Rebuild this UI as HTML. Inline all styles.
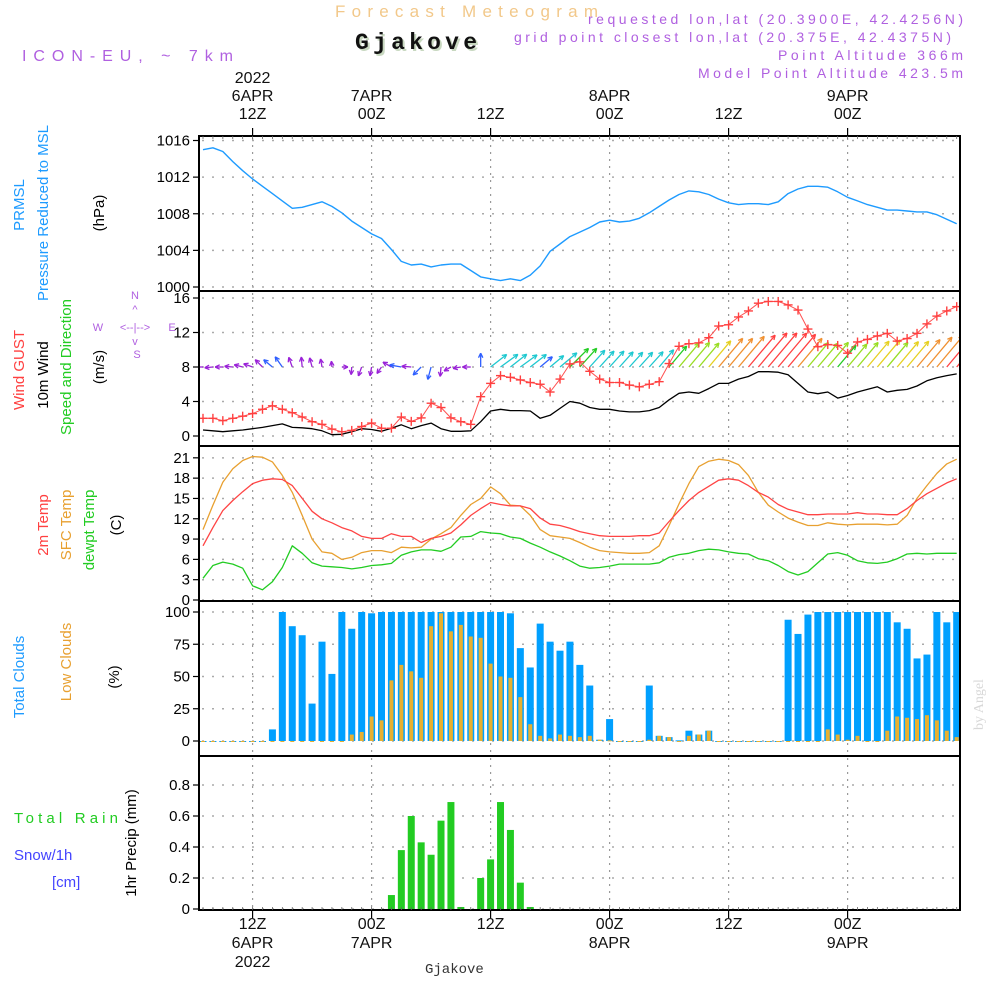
<!DOCTYPE html>
<html><head><meta charset="utf-8"><style>
html,body{margin:0;padding:0;background:#fff;}
svg{display:block;font-family:"Liberation Sans",sans-serif;}
</style></head><body>
<svg id="chart" width="1000" height="1000" viewBox="0 0 1000 1000" xmlns="http://www.w3.org/2000/svg">
<defs>
<clipPath id="plotclip"><rect x="199" y="136" width="761" height="774"/></clipPath>
</defs>
<g>
<text x="335" y="17" font-size="17" fill="#f2c88a" textLength="263" lengthAdjust="spacing">Forecast Meteogram</text>
<text x="357" y="51" font-size="23" font-weight="bold" font-family="Liberation Mono, monospace" fill="#c8d8c0" textLength="122" lengthAdjust="spacing">Gjakove</text>
<text x="355" y="49" font-size="23" font-weight="bold" font-family="Liberation Mono, monospace" fill="#111" textLength="122" lengthAdjust="spacing">Gjakove</text>
<text x="22" y="61" font-size="16" fill="#b060e0" textLength="211" lengthAdjust="spacing">ICON-EU, ~ 7km</text>
<text x="588" y="24" font-size="14" fill="#b060e0" textLength="375" lengthAdjust="spacing">requested lon,lat (20.3900E, 42.4256N)</text>
<text x="514" y="42" font-size="14" fill="#b060e0" textLength="437" lengthAdjust="spacing">grid point closest lon,lat (20.375E, 42.4375N)</text>
<text x="778" y="60" font-size="14" fill="#b060e0" textLength="185" lengthAdjust="spacing">Point Altitude 366m</text>
<text x="698" y="78" font-size="14" fill="#b060e0" textLength="265" lengthAdjust="spacing">Model Point Altitude 423.5m</text>
<text transform="translate(983,730) rotate(-90)" font-size="14" font-family="Liberation Serif, serif" fill="#d8d8d8">by Angel</text>
<text x="425" y="973" font-size="14" font-family="Liberation Mono, monospace" fill="#333">Gjakove</text>
</g>
<g font-size="15">
<text transform="translate(24,205) rotate(-90)" text-anchor="middle" fill="#1e9bff">PRMSL</text>
<text transform="translate(48,213) rotate(-90)" text-anchor="middle" fill="#1e9bff">Pressure Reduced to MSL</text>
<text transform="translate(104,213) rotate(-90)" text-anchor="middle" fill="#000">(hPa)</text>
<text transform="translate(24,370) rotate(-90)" text-anchor="middle" fill="#ff4040">Wind GUST</text>
<text transform="translate(48,375) rotate(-90)" text-anchor="middle" fill="#000">10m Wind</text>
<text transform="translate(71,367) rotate(-90)" text-anchor="middle" fill="#22cc22">Speed and Direction</text>
<text transform="translate(104,367) rotate(-90)" text-anchor="middle" fill="#000">(m/s)</text>
<g fill="#b060e0" font-size="11" text-anchor="middle">
<text x="135" y="299">N</text><text x="137" y="358">S</text><text x="98" y="331">W</text><text x="172" y="331">E</text>
<text x="135" y="331">&lt;--|--&gt;</text><text x="135" y="313">^</text><text x="135" y="345">v</text>
</g>
<text transform="translate(48,525) rotate(-90)" text-anchor="middle" fill="#ff4040">2m Temp</text>
<text transform="translate(71,525) rotate(-90)" text-anchor="middle" fill="#e8a030">SFC Temp</text>
<text transform="translate(94,530) rotate(-90)" text-anchor="middle" fill="#22cc22">dewpt Temp</text>
<text transform="translate(121,525) rotate(-90)" text-anchor="middle" fill="#000">(C)</text>
<text transform="translate(24,677) rotate(-90)" text-anchor="middle" fill="#1e9bff">Total Clouds</text>
<text transform="translate(71,662) rotate(-90)" text-anchor="middle" fill="#e8a030">Low Clouds</text>
<text transform="translate(119,677) rotate(-90)" text-anchor="middle" fill="#000">(%)</text>
<text x="14" y="823" fill="#22cc22" textLength="104" lengthAdjust="spacing">Total  Rain</text>
<text x="14" y="860" fill="#4444ff">Snow/1h</text>
<text x="52" y="887" fill="#4444ff">[cm]</text>
<text transform="translate(136,843) rotate(-90)" text-anchor="middle" fill="#000">1hr Precip (mm)</text>
</g>
<g id="plot"></g>
</svg>
<script>
const hours = 77;
const pressure = [1015.0,1015.2,1014.8,1013.7,1012.7,1011.8,1011.0,1010.2,1009.4,1008.6,1008.7,1009.0,1009.3,1008.8,1008.1,1007.2,1006.5,1005.8,1005.3,1004.1,1002.8,1002.4,1002.5,1002.2,1002.4,1002.5,1002.5,1001.8,1001.1,1000.9,1000.7,1000.9,1000.7,1001.3,1002.3,1003.9,1004.7,1005.5,1006.0,1006.5,1007.1,1007.3,1007.1,1007.2,1007.5,1008.1,1008.8,1009.5,1010.1,1010.5,1010.4,1010.1,1009.6,1009.2,1009.0,1009.1,1009.1,1009.0,1009.3,1010.2,1010.7,1011.0,1011.0,1010.9,1010.4,1009.8,1009.4,1009.0,1008.7,1008.4,1008.4,1008.3,1008.2,1008.2,1007.9,1007.4,1006.9];
const gust = [2.05,2.05,1.78,2.05,2.3,2.6,3.1,3.5,3.1,2.7,2.2,1.66,1.35,0.8,0.5,0.65,1.1,1.5,0.9,0.9,2.2,1.7,2.1,3.8,3.3,2.1,1.66,1.35,4.56,6.1,7.0,6.8,6.5,6.2,6.0,5.1,6.6,8.35,8.6,7.5,6.6,6.2,6.2,5.9,5.7,6.0,6.3,8.4,10.4,10.7,10.8,11.4,12.75,12.9,13.8,14.5,15.4,15.6,15.6,15.2,14.6,12.4,10.35,10.6,10.5,9.6,10.9,11.2,11.6,11.9,11.0,11.3,11.9,13.0,13.9,14.5,15.0];
const windSpeed = [0.7,0.6,0.5,0.6,0.7,0.85,1.0,1.2,1.4,1.0,0.95,0.85,0.6,0.15,0.2,0.5,0.85,0.75,0.55,0.9,1.3,0.85,1.2,1.5,0.85,0.55,0.55,0.6,1.66,2.9,3.1,2.95,2.95,2.9,2.05,2.4,3.2,4.0,3.8,3.3,3.1,3.1,2.9,2.8,2.8,2.95,3.3,4.2,4.95,5.1,4.95,5.5,6.1,6.1,6.6,6.9,7.45,7.45,7.4,7.1,6.1,5.1,4.9,5.1,4.4,4.7,5.1,5.4,5.7,5.1,5.3,5.4,5.8,6.4,6.75,7.0,7.2];
const windDir = [180,185,180,175,165,160,135,140,125,110,95,105,100,95,0,265,250,260,235,150,170,175,225,255,265,210,190,180,90,38,36,38,36,38,40,40,40,45,48,48,48,48,48,48,48,48,50,50,50,50,50,50,50,50,50,50,50,50,50,50,50,50,50,50,50,50,50,50,50,50,50,50,50,50,50,50,50];
const temp2m = [8.0,10.7,13.2,14.7,16.0,17.2,17.7,17.9,17.8,16.9,15.0,13.1,12.0,11.4,10.7,10.2,9.4,9.1,9.1,9.8,9.4,9.4,8.5,9.1,9.4,9.9,11.1,12.5,13.5,14.4,14.1,13.9,13.9,13.5,12.1,11.2,11.0,10.6,10.1,9.8,9.5,9.4,9.4,9.4,9.5,9.5,9.9,11.6,13.2,14.7,15.9,16.8,17.7,17.9,17.7,16.9,15.9,15.2,14.1,13.4,13.0,12.6,12.6,12.7,12.7,12.7,12.9,12.7,12.7,12.6,12.6,13.5,14.7,15.7,16.5,17.3,17.9];
const tempSfc = [10.4,14.0,17.4,19.4,20.6,21.2,21.1,20.4,18.4,15.9,12.5,9.0,7.1,6.9,6.0,6.3,7.0,7.3,7.3,7.0,7.8,7.7,7.8,9.0,9.8,10.7,12.5,14.1,15.0,16.7,15.7,14.0,13.9,12.5,10.4,9.5,9.3,9.1,8.5,7.8,7.3,7.1,7.0,6.9,6.9,7.0,8.0,11.0,14.2,17.2,19.7,20.5,20.8,20.6,20.0,18.4,15.9,14.0,13.0,12.1,11.5,11.0,11.0,11.4,11.2,11.1,11.2,11.2,11.2,11.1,11.2,12.5,15.0,16.9,18.7,20.1,20.8];
const dewpt = [3.2,5.1,5.6,5.3,4.7,2.1,1.5,2.7,4.8,8.0,6.9,5.5,5.0,4.9,4.8,4.6,4.8,5.1,5.2,5.4,6.6,7.1,7.4,7.4,7.2,7.8,9.3,9.4,10.1,9.9,9.8,9.3,9.1,8.4,7.8,7.1,6.5,5.8,5.0,4.7,4.8,5.0,5.3,5.3,5.3,5.3,5.5,6.3,6.7,6.9,7.3,7.5,7.4,7.1,6.9,6.8,6.1,5.8,5.1,4.2,3.7,4.2,5.5,6.8,7.0,6.6,5.8,5.5,5.4,5.6,6.1,6.8,6.9,6.8,6.9,6.9,6.9];
const totalCloud = [0,0,0,0,0,0,0,9,100,89,82,29,77,52,100,87,100,99,100,100,100,100,100,100,100,100,100,100,100,100,100,99,72,57,91,77,70,77,59,43,1,17,0,0,0,43,4,3,0.5,8,5,8,0,0,0,0,0,0,0,94,83,98,100,100,100,100,100,100,100,100,92,87,64,67,100,92,100];
const lowCloud = [0,0,0,0,0,0,0,0,0,0,0,0,0,0,0,5,7,19,16,47,59,54,49,89,99,85,90,81,80,60,50,49,34,13,4,2,5,4,3,4,1,0.5,0,0,0,1,4,3,0,4,5,8,0,0,0,0,0,0,0,0,0,0,0,9,5,1,4,0,0,8,19,18,17,20,16,8,3];
const precip = [0,0,0,0,0,0,0,0,0,0,0,0,0,0,0,0,0,0,0,0.09,0.38,0.6,0.43,0.35,0.57,0.69,0.013,0,0.2,0.32,0.69,0.51,0.17,0.013,0,0,0,0,0,0,0,0,0,0,0,0,0,0,0,0,0,0,0,0,0,0,0,0,0,0,0,0,0,0,0,0,0,0,0,0,0,0,0,0,0,0,0];
const pressureTicks = [1000,1004,1008,1012,1016];
const windTicks = [0,4,8,12,16];
const tempTicks = [0,3,6,9,12,15,18,21];
const cloudTicks = [0,25,50,75,100];
const precipTicks = [0,0.2,0.4,0.6,0.8];
const timeTickHours = [5,17,29,41,53,65];
const topTimeLabels = [["2022","6APR","12Z"],["7APR","00Z"],["12Z"],["8APR","00Z"],["12Z"],["9APR","00Z"]];
const bottomTimeLabels = [["12Z","6APR","2022"],["00Z","7APR"],["12Z"],["00Z","8APR"],["12Z"],["00Z","9APR"]];

const NS = "http://www.w3.org/2000/svg";
const root = document.getElementById("plot");
const L = 199, R = 960;
const xAt = i => 203 + i * 9.917;
const panels = [
  {top:136,bot:291,y:v=>287-(v-1000)*9.156,ticks:pressureTicks,fmt:v=>String(v),name:"pressure"},
  {top:291,bot:446,y:v=>436-v*8.625,ticks:windTicks,fmt:v=>String(v),name:"wind"},
  {top:446,bot:601,y:v=>600-v*6.77,ticks:tempTicks,fmt:v=>String(v),name:"temperature"},
  {top:601,bot:756,y:v=>741-v*1.29,ticks:cloudTicks,fmt:v=>String(v),name:"clouds"},
  {top:756,bot:910,y:v=>909-v*155,ticks:precipTicks,fmt:v=>v===0?"0":v.toFixed(1),name:"precip"}
];
function mk(tag, attrs, parent){
  const e = document.createElementNS(NS, tag);
  for (const k in attrs) e.setAttribute(k, attrs[k]);
  (parent||root).appendChild(e);
  return e;
}
function line(x1,y1,x2,y2,stroke,w,dash,parent){
  const a={x1:x1,y1:y1,x2:x2,y2:y2,stroke:stroke,"stroke-width":w};
  if(dash) a["stroke-dasharray"]=dash;
  return mk("line",a,parent);
}
panels.forEach(p=>{
  const g = mk("g",{});
  
  
  p.g = g;
  timeTickHours.forEach(h=>{
    const gl = line(xAt(h),p.top+2,xAt(h),p.bot-2,"#999",1.2,"2,5",g);
    
    
  });
  p.ticks.forEach(v=>{
    const y = p.y(v);
    const gl = line(L+3,y,R-2,y,"#aaa",1.5,"2,8",g);
    
    
    line(L-6,y,L,y,"#000",1.2,null,g);
    const t = mk("text",{x:L-9,y:y+5,"text-anchor":"end","font-size":15,fill:"#000"},g);
    
    
    t.textContent = p.fmt(v);
  });
});
const marks = mk("g",{"clip-path":"url(#plotclip)"});


function polyline(vals, yf, color, w, nm){
  const pts = vals.map((v,i)=>xAt(i).toFixed(1)+","+yf(v).toFixed(1)).join(" ");
  const pl = mk("polyline",{points:pts,fill:"none",stroke:color,"stroke-width":w,"stroke-linejoin":"round"},marks);
  
  
  return pl;
}
const P = panels;
polyline(pressure, P[0].y, "#1e9bff", 1.4, "pressure-line");
function speedColor(s){
  if(s<1.1) return "#9a22d8";
  if(s<2.2) return "#2f5fff";
  if(s<3.6) return "#1ec8d0";
  if(s<4.6) return "#22cc22";
  if(s<5.2) return "#99dd22";
  if(s<5.8) return "#e6d020";
  if(s<6.8) return "#f09030";
  return "#ff4040";
}
const base = P[1].y(8);
windDir.forEach((d,i)=>{
  const s = windSpeed[i];
  const len = 5 + s*5.3;
  const a = d*Math.PI/180;
  const x0 = xAt(i), y0 = base;
  const x1 = x0 + Math.cos(a)*len, y1 = y0 - Math.sin(a)*len;
  const c = speedColor(s);
  const g = mk("g",{stroke:c,"stroke-width":1.3,fill:"none"},marks);
  
  
  mk("line",{x1:x0,y1:y0,x2:x1,y2:y1},g);
  const hl = 5;
  [a+Math.PI-0.45, a+Math.PI+0.45].forEach(b=>{
    mk("line",{x1:x1,y1:y1,x2:x1+Math.cos(b)*hl,y2:y1-Math.sin(b)*hl},g);
  });
});
polyline(windSpeed, P[1].y, "#000", 1.3, "wind-speed-line");
polyline(gust, P[1].y, "#ff5050", 1, "gust-line");
gust.forEach((v,i)=>{
  const x=xAt(i), y=P[1].y(v);
  const g = mk("g",{stroke:"#ff4040","stroke-width":1.4},marks);
  
  
  mk("line",{x1:x-4.5,y1:y,x2:x+4.5,y2:y},g);
  mk("line",{x1:x,y1:y-4.5,x2:x,y2:y+4.5},g);
});
polyline(tempSfc, P[2].y, "#e8a030", 1.3, "sfc-temp-line");
polyline(temp2m, P[2].y, "#ff4444", 1.3, "t2m-line");
polyline(dewpt, P[2].y, "#22cc22", 1.3, "dewpoint-line");
totalCloud.forEach((v,i)=>{
  const y0=P[3].y(0), y=P[3].y(v);
  const r = mk("rect",{x:xAt(i)-3.5,y:y,width:7,height:Math.max(y0-y,1),fill:"#00a0ff"},marks);
  
  
});
lowCloud.forEach((v,i)=>{
  const y0=P[3].y(0), y=P[3].y(v);
  const r = mk("rect",{x:xAt(i)-2,y:y,width:4,height:Math.max(y0-y,1),fill:"#e8b030"},marks);
  
  
});
precip.forEach((v,i)=>{
  const y0=P[4].y(0), y=P[4].y(v);
  const r = mk("rect",{x:xAt(i)-3.5,y:y,width:7,height:Math.max(y0-y,0.8),fill:"#22cc22"},marks);
  
  
});
panels.forEach(p=>{
  const r = mk("rect",{x:L,y:p.top,width:R-L,height:p.bot-p.top,fill:"none",stroke:"#000","stroke-width":2});
  
  
});
for(let i=0;i<hours;i++){
  line(xAt(i),136,xAt(i),139,"#666",0.8);
  line(xAt(i),907,xAt(i),910,"#666",0.8);
}
timeTickHours.forEach((h,k)=>{
  const x=xAt(h);
  line(x,128,x,136,"#000",1.2);
  line(x,910,x,918,"#000",1.2);
  const tl = topTimeLabels[k];
  tl.forEach((s,j)=>{
    const t = mk("text",{x:x,y:127-8-(tl.length-1-j)*18,"text-anchor":"middle","font-size":16,fill:"#111"});
    
    
    t.textContent=s;
  });
  bottomTimeLabels[k].forEach((s,j)=>{
    const t = mk("text",{x:x,y:929+j*19,"text-anchor":"middle","font-size":16,fill:"#111"});
    
    
    t.textContent=s;
  });
});
</script>
</body></html>
